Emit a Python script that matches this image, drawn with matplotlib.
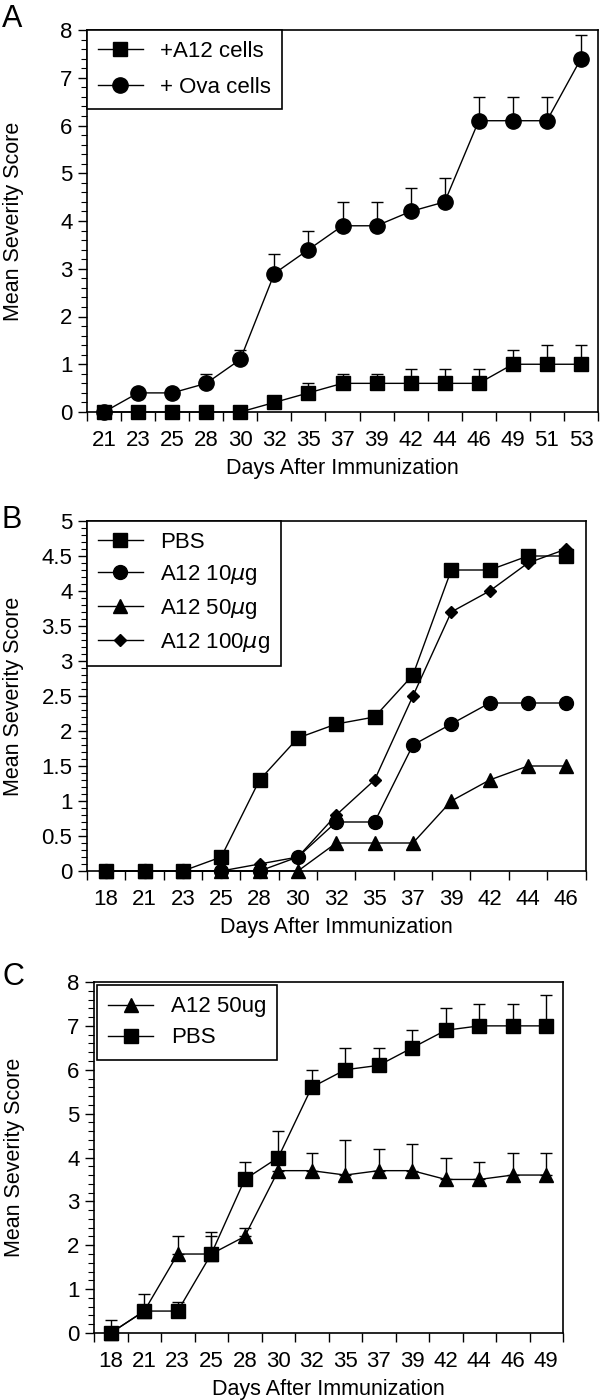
import numpy as np
import matplotlib
matplotlib.use('Agg')
import matplotlib.pyplot as plt
from matplotlib.ticker import MultipleLocator, FormatStrFormatter

plt.rcParams['font.family'] = ['Liberation Sans', 'DejaVu Sans']
plt.rcParams['mathtext.fontset'] = 'dejavusans'

#------------------------------------------------------------------------------#
# panel A

days_a = ['21', '23', '25', '28', '30', '32', '35', '37', '39', '42', '44', '46', '49', '51', '53']
a12_cells = [0, 0, 0, 0, 0, 0.2, 0.4, 0.6, 0.6, 0.6, 0.6, 0.6, 1.0, 1.0, 1.0]
a12_cells_err = [0, 0, 0, 0, 0, 0, 0.2, 0.2, 0.2, 0.3, 0.3, 0.3, 0.3, 0.4, 0.4]
ova_cells = [0, 0.4, 0.4, 0.6, 1.1, 2.9, 3.4, 3.9, 3.9, 4.2, 4.4, 6.1, 6.1, 6.1, 7.4]
ova_cells_err = [0, 0, 0, 0.2, 0.2, 0.4, 0.4, 0.5, 0.5, 0.5, 0.5, 0.5, 0.5, 0.5, 0.5]

# panel B

days_b = ['18', '21', '23', '25', '28', '30', '32', '35', '37', '39', '42', '44', '46']
pbs_b = [0, 0, 0, 0.2, 1.3, 1.9, 2.1, 2.2, 2.8, 4.3, 4.3, 4.5, 4.5]
a12_10 = [0, 0, 0, 0, 0, 0.2, 0.7, 0.7, 1.8, 2.1, 2.4, 2.4, 2.4]
a12_50 = [0, 0, 0, 0, 0, 0, 0.4, 0.4, 0.4, 1.0, 1.3, 1.5, 1.5]
a12_100 = [0, 0, 0, 0, 0.1, 0.2, 0.8, 1.3, 2.5, 3.7, 4.0, 4.4, 4.6]

# panel C

days_c = ['18', '21', '23', '25', '28', '30', '32', '35', '37', '39', '42', '44', '46', '49']
a12_50ug = [0, 0.5, 1.8, 1.8, 2.2, 3.7, 3.7, 3.6, 3.7, 3.7, 3.5, 3.5, 3.6, 3.6]
a12_50ug_err = [0.3, 0.4, 0.4, 0.4, 0.2, 0.4, 0.4, 0.8, 0.5, 0.6, 0.5, 0.4, 0.5, 0.5]
pbs_c = [0, 0.5, 0.5, 1.8, 3.5, 4.0, 5.6, 6.0, 6.1, 6.5, 6.9, 7.0, 7.0, 7.0]
pbs_c_err = [0, 0, 0.2, 0.5, 0.4, 0.6, 0.4, 0.5, 0.4, 0.4, 0.5, 0.5, 0.5, 0.7]

#------------------------------------------------------------------------------#

FS_TICK = 16
FS_LAB = 15.5
FS_LEG = 16
W, H = 600, 1400

fig = plt.figure(figsize = (6, 14), dpi = 100)

def add_axes(l, t, r, b):
    return fig.add_axes([l / W, 1 - b / H, (r - l) / W, (b - t) / H])

def setup(ax, labels, ymax, major, minor):
    n = len(labels)
    ax.set_xlim(-0.5, n - 0.5)
    ax.set_ylim(0, ymax)
    ax.set_xticks(np.arange(n))
    ax.set_xticklabels(labels)
    ax.set_xticks(np.arange(n + 1) - 0.5, minor = True)
    ax.tick_params(axis = 'x', which = 'major', length = 0, pad = 13, labelsize = FS_TICK)
    ax.tick_params(axis = 'x', which = 'minor', length = 6.5, width = 1, direction = 'out')
    ax.yaxis.set_major_locator(MultipleLocator(major))
    ax.yaxis.set_minor_locator(MultipleLocator(minor))
    ax.yaxis.set_major_formatter(FormatStrFormatter('%g'))
    ax.tick_params(axis = 'y', which = 'major', length = 6.5, width = 1, pad = 4, labelsize = FS_TICK)
    ax.tick_params(axis = 'y', which = 'minor', length = 4, width = 0.8)
    for s in ax.spines.values():
        s.set_linewidth(1.2)
    ax.set_xlabel('Days After Immunization', fontsize = FS_LAB, labelpad = 5)

def series(ax, y, marker, ms, err = None):
    x = np.arange(len(y))
    if err is not None:
        ax.errorbar(x, y, yerr = [np.zeros(len(y)), err], fmt = 'none', ecolor = 'k',
            elinewidth = 1, capsize = 4, capthick = 1, zorder = 2, clip_on = False)
    line, = ax.plot(x, y, color = 'k', lw = 1, marker = marker, ms = ms,
        mfc = 'k', mec = 'k', zorder = 3, clip_on = False)
    return line

def legend(ax, handles, labels, spacing, pad = 0):
    ax.legend(handles, labels, loc = 'upper left', fontsize = FS_LEG, frameon = True,
        fancybox = False, edgecolor = 'k', framealpha = 1, borderaxespad = pad,
        handlelength = 2.0, handletextpad = 0.8, labelspacing = spacing,
        numpoints = 1, borderpad = 0.5).get_frame().set_linewidth(1.2)

#------------------------------------------------------------------------------#

ax = add_axes(87, 30, 598, 412)
setup(ax, days_a, 8, 1, 0.2)
l2 = series(ax, ova_cells, 'o', 11, ova_cells_err)
l1 = series(ax, a12_cells, 's', 9.5, a12_cells_err)
legend(ax, [l1, l2], ['+A12 cells', '+ Ova cells'], 0.65)
fig.text(14 / W, 1 - 221 / H, 'Mean Severity Score', rotation = 90, fontsize = FS_LAB,
    ha = 'center', va = 'center')
fig.text(2 / W, 1 - 4 / H, 'A', fontsize = 22, ha = 'left', va = 'top')

#------------------------------------------------------------------------------#

ax = add_axes(87, 521, 585.5, 871)
setup(ax, days_b, 5, 0.5, 0.1)
l3 = series(ax, a12_50, '^', 9.5)
l4 = series(ax, a12_100, 'D', 6.5)
l2 = series(ax, a12_10, 'o', 10)
l1 = series(ax, pbs_b, 's', 9.5)
legend(ax, [l1, l2, l3, l4],
    ['PBS', r'A12 10$\mathit{\mu}$g', r'A12 50$\mathit{\mu}$g', r'A12 100$\mathit{\mu}$g'], 0.45)
fig.text(14 / W, 1 - 696 / H, 'Mean Severity Score', rotation = 90, fontsize = FS_LAB,
    ha = 'center', va = 'center')
fig.text(2 / W, 1 - 505 / H, 'B', fontsize = 22, ha = 'left', va = 'top')

#------------------------------------------------------------------------------#

ax = add_axes(94, 982, 563, 1333)
setup(ax, days_c, 8, 1, 0.2)
l1 = series(ax, a12_50ug, '^', 9.5, a12_50ug_err)
l2 = series(ax, pbs_c, 's', 9.5, pbs_c_err)
legend(ax, [l1, l2], ['A12 50ug', 'PBS'], 0.45, pad = 0.15)
fig.text(15 / W, 1 - 1157 / H, 'Mean Severity Score', rotation = 90, fontsize = FS_LAB,
    ha = 'center', va = 'center')
fig.text(2 / W, 1 - 962 / H, 'C', fontsize = 22, ha = 'left', va = 'top')

plt.savefig('out.png', dpi = 100)
